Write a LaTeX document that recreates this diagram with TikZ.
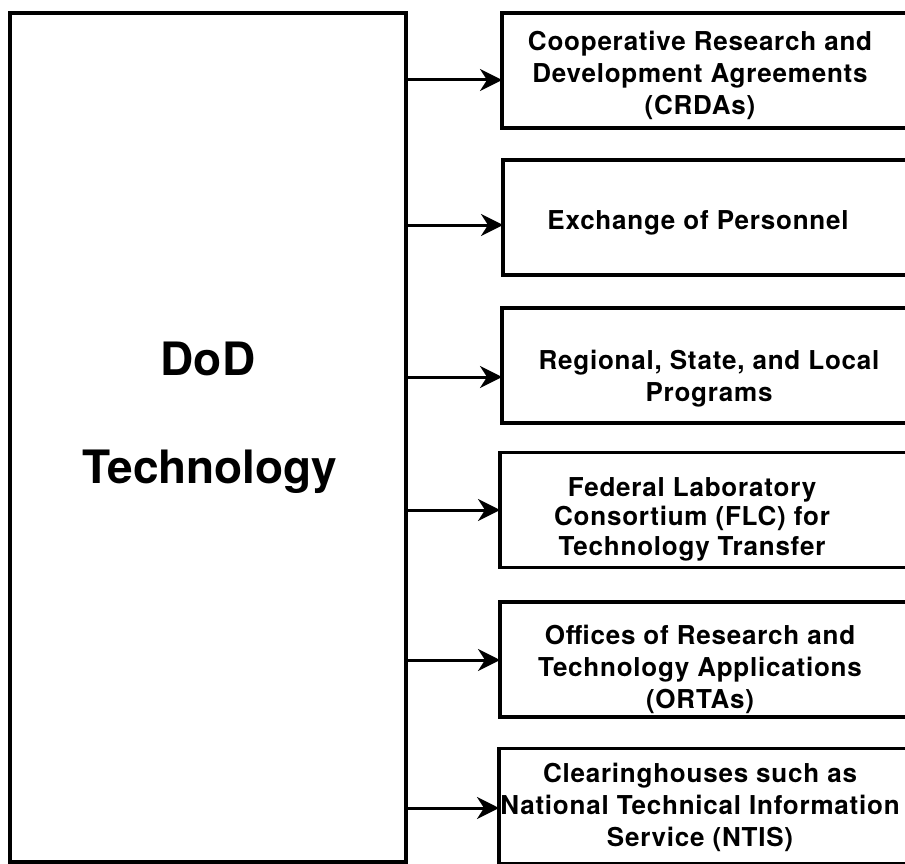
\documentclass[tikz,border=0pt]{standalone}
\usepackage{fontspec}
\setmainfont{TeX Gyre Heros}
\newfontfamily\widefont[LetterSpace=3]{TeX Gyre Heros}
\usetikzlibrary{arrows.meta}
\begin{document}
\begin{tikzpicture}[x=1pt,y=-1pt,
  every node/.style={inner sep=0pt,outer sep=0pt},
  bigbox/.style={draw,line width=3.2pt,rectangle,minimum width=396pt,minimum height=849pt},
  outbox/.style={draw,line width=3.2pt,rectangle,minimum width=410pt,minimum height=115pt},
  boxtext/.style={align=center,font=\widefont\bfseries\fontsize{26}{32}\selectfont},
  bigtext/.style={anchor=base,font=\bfseries\fontsize{46}{54}\selectfont},
  arr/.style={line width=3pt,-{Stealth[length=22pt,width=22pt,inset=7pt]}}
]
\fill[white] (0,0) rectangle (905,864);
\useasboundingbox (0,0) rectangle (905,864);

\node[bigbox] (dod) at (208,437.5) {};
\node[bigtext] (dodA) at (208,375) {DoD};
\node[bigtext] (dodB) at (210,483) {Technology};

\node[outbox] (b1) at (707,70.5) {};
\node[outbox] (b2) at (708,217.5) {};
\node[outbox] (b3) at (707,365.5) {};
\node[outbox] (b4) at (705,510) {};
\node[outbox] (b5) at (705,659.5) {};
\node[outbox] (b6) at (704,806) {};

\node[boxtext] (t1) at (700,75) {Cooperative Research and\\Development Agreements\\(CRDAs)};
\node[boxtext] (t2) at (698,223) {Exchange of Personnel};
\node[boxtext] (t3) at (709,379) {Regional, State, and Local\\Programs};
\node[boxtext,font=\widefont\bfseries\fontsize{26}{29.5}\selectfont] (t4) at (692,519) {Federal Laboratory\\Consortium (FLC) for\\Technology Transfer};
\node[boxtext] (t5) at (700,669) {Offices of Research and\\Technology Applications\\(ORTAs)};
\node[boxtext] (t6) at (700,807) {Clearinghouses such as\\National Technical Information\\Service (NTIS)};

\coordinate (y1) at (0,80);
\coordinate (y2) at (0,225);
\coordinate (y3) at (0,377);
\coordinate (y4) at (0,510);
\coordinate (y5) at (0,660);
\coordinate (y6) at (0,808);

\draw[arr] (dod.east |- y1) -- (b1.west |- y1);
\draw[arr] (dod.east |- y2) -- (b2.west |- y2);
\draw[arr] (dod.east |- y3) -- (b3.west |- y3);
\draw[arr] (dod.east |- y4) -- (b4.west |- y4);
\draw[arr] (dod.east |- y5) -- (b5.west |- y5);
\draw[arr] (dod.east |- y6) -- (b6.west |- y6);
\end{tikzpicture}
\end{document}
